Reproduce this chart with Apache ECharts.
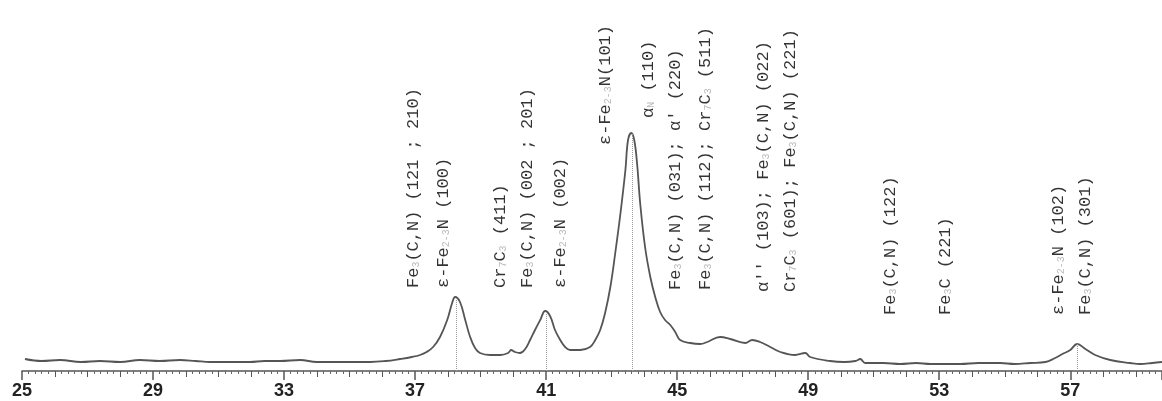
<!DOCTYPE html>
<html>
<head>
<meta charset="utf-8">
<script src="https://cdn.jsdelivr.net/npm/echarts@6/dist/echarts.min.js"></script>
<style>html,body{margin:0;padding:0;background:#fff}#c{width:1162px;height:401px}</style>
</head>
<body>
<div id="c"></div>
<script>
var twoTheta = [25.09,25.6,26.16,26.8,27.38,28.0,28.6,29.2,29.82,30.3,30.74,31.3,31.96,32.4,32.88,33.49,34.0,34.4,35.0,35.63,36.1,36.54,36.9,37.15,37.35,37.55,37.76,37.98,38.13,38.22,38.37,38.53,38.68,38.83,38.98,39.29,39.6,39.84,39.93,40.05,40.2,40.36,40.51,40.66,40.82,40.97,41.12,41.27,41.43,41.58,41.73,42.04,42.34,42.5,42.65,42.8,42.96,43.11,43.27,43.42,43.5,43.6,43.69,43.78,43.87,44.02,44.18,44.33,44.48,44.63,44.79,44.94,45.09,45.4,45.7,45.92,46.31,46.62,47.08,47.29,47.53,47.84,48.15,48.6,48.91,49.06,49.67,50.1,50.44,50.59,50.74,51.3,51.81,52.3,52.73,53.2,53.64,54.2,54.86,55.3,55.78,56.24,56.54,56.76,57.0,57.21,57.46,57.76,58.22,58.83,59.14,59.5,59.8];
var intensity = [12,10,11,9,10,9,11,10,11,10,9,9,9,10,10,11,9,9,9,9,10,12,14,16,19,24,34,51,68,74,69,51,34,23,18,16,16,18,21,19,18,22,31,41,51,60,55,41,31,24,21,21,24,31,41,58,84,118,158,201,231,238,231,206,168,124,94,74,59,51,46,39,31,28,27,29,34,32,28,31,29,24,19,16,18,14,10,9,10,12,8,8,7,8,7,7,7,8,8,7,8,9,13,17,21,27,22,16,11,8,7,8,9];
// peaks marked with dotted guide lines
var peakTheta = [38.25, 41.0, 43.62, 57.2];
var peakHeight = [74, 60, 238, 27];
// x axis
var axisMin = 25, axisMax = 59.8, axisStep = 4;
// phase annotations: text, 2-theta, base intensity
var annText = [
  'Fe{s|3}(C,N) (121 ; 210)',
  'ε-Fe{s|2-3}N (100)',
  'Cr{s|7}C{s|3} (411)',
  'Fe{s|3}(C,N) (002 ; 201)',
  'ε-Fe{s|2-3}N (002)',
  'ε-Fe{s|2-3}N(101)',
  'α{s|N} (110)',
  'Fe{s|3}(C,N) (031); α\' (220)',
  'Fe{s|3}(C,N) (112); Cr{s|7}C{s|3} (511)',
  'α\'\' (103); Fe{s|3}(C,N) (022)',
  'Cr{s|7}C{s|3} (601); Fe{s|3}(C,N) (221)',
  'Fe{s|3}(C,N) (122)',
  'Fe{s|3}C (221)',
  'ε-Fe{s|2-3}N (102)',
  'Fe{s|3}(C,N) (301)'
];
var annTheta = [36.94,37.86,39.6,40.42,41.43,42.8,44.11,44.94,45.85,47.63,48.45,51.5,53.18,56.63,57.46];
var annBase  = [83,83,83,83,83,226,253,81,81,79,79,56,56,56,56];

var lineData = twoTheta.map(function(t,i){return [t,intensity[i]];});
var annData = annTheta.map(function(t,i){return {value:[t,annBase[i]], label:{formatter:annText[i]}};});
var guideLines = peakTheta.map(function(t,i){return [{coord:[t,0]},{coord:[t,peakHeight[i]]}];});

var chart = echarts.init(document.getElementById('c'));
chart.setOption({
  animation:false,
  backgroundColor:'#fff',
  grid:{left:22,right:0,top:0,bottom:30},
  xAxis:[{
    type:'value', min:axisMin, max:axisMax, interval:axisStep,
    axisLine:{lineStyle:{color:'#555',width:1.5}},
    axisTick:{length:9,lineStyle:{color:'#555',width:1.5}},
    minorTick:{show:true,splitNumber:4,length:6,lineStyle:{color:'#555',width:1}},
    splitLine:{show:false},
    axisLabel:{showMaxLabel:false,margin:11,fontFamily:'Liberation Sans',fontWeight:'bold',fontSize:18,color:'#222'}
  },{
    type:'value', min:axisMin, max:axisMax, interval:1, position:'bottom',
    axisLine:{show:false},
    axisTick:{show:false},
    minorTick:{show:true,splitNumber:5,length:3,lineStyle:{color:'#666',width:1}},
    splitLine:{show:false},
    axisLabel:{show:false}
  }],
  yAxis:{type:'value',min:0,max:371,show:false},
  series:[{
    type:'line', data:lineData, smooth:0.4, symbol:'none',
    lineStyle:{color:'#555',width:1.8},
    markLine:{symbol:'none',silent:true,label:{show:false},
      lineStyle:{color:'#999',type:'dotted',width:1},
      data:guideLines}
  },{
    type:'scatter', data:annData, symbolSize:0, silent:true,
    label:{show:true,rotate:90,align:'left',verticalAlign:'middle',position:[0,0],
      fontFamily:'Liberation Mono',fontSize:17,color:'#000',
      rich:{s:{fontFamily:'Liberation Mono',fontSize:10,color:'#aaa',verticalAlign:'bottom'}}}
  },{
    type:'line', xAxisIndex:1, data:[], symbol:'none'
  }]
});
</script>
</body>
</html>
